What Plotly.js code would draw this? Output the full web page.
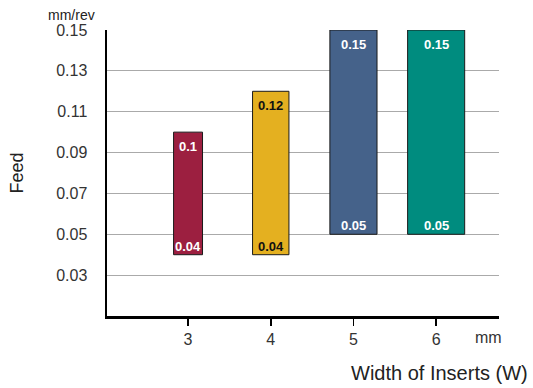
<!DOCTYPE html>
<html>
<head>
<meta charset="utf-8">
<script src="https://cdn.plot.ly/plotly-3.0.1.min.js"></script>
<style>html,body{margin:0;padding:0;background:#fff;}#chart{width:533px;height:388px;}</style>
</head>
<body>
<div id="chart"></div>
<script>
// Data
const widths = [3, 4, 5, 6];           // insert width (mm)
const feedMin = [0.04, 0.04, 0.05, 0.05];
const feedMax = [0.10, 0.12, 0.15, 0.15];
const yTicks = [0.03, 0.05, 0.07, 0.09, 0.11, 0.13, 0.15];
const yTickText = ['0.03', '0.05', '0.07', '0.09', '0.11', '0.13', '0.15'];
const xTickText = ['3', '4', '5', '6'];

const colors = ['#9C1F40', '#E4B020', '#45628A', '#008C7F'];
const labelColors = ['#ffffff', '#111111', '#ffffff', '#ffffff'];
const barWidths = [0.35, 0.44, 0.57, 0.69];

const font = 'Liberation Sans, Arial, Helvetica, sans-serif';

const trace = {
  type: 'bar',
  x: widths,
  base: feedMin,
  y: feedMax.map((v, i) => v - feedMin[i]),
  width: barWidths,
  marker: { color: colors, line: { color: '#1a1a1a', width: 1 } },
  hoverinfo: 'skip',
  cliponaxis: false
};

const annotations = [];
widths.forEach((w, i) => {
  annotations.push({
    x: w, y: feedMax[i], xref: 'x', yref: 'y', text: String(feedMax[i]),
    showarrow: false, yanchor: 'top', yshift: -5,
    font: { family: font, size: 13, color: labelColors[i], weight: 'bold' }
  });
  annotations.push({
    x: w, y: feedMin[i], xref: 'x', yref: 'y', text: String(feedMin[i]),
    showarrow: false, yanchor: 'bottom', yshift: -1,
    font: { family: font, size: 13, color: labelColors[i], weight: 'bold' }
  });
});
annotations.push({
  xref: 'paper', yref: 'paper', x: -0.09, y: 1.0, yshift: 15, text: 'mm/rev',
  showarrow: false, xanchor: 'center', yanchor: 'middle',
  font: { family: font, size: 14, color: '#222' }
});
annotations.push({
  xref: 'paper', yref: 'paper', x: 1.0, y: 0, yshift: -21, xshift: -11, text: 'mm',
  showarrow: false, xanchor: 'center', yanchor: 'middle',
  font: { family: font, size: 16, color: '#333' }
});
annotations.push({
  xref: 'paper', yref: 'paper', x: 1.0, y: 0, yshift: -57, xshift: 31, text: 'Width of Inserts (W)',
  showarrow: false, xanchor: 'right', yanchor: 'middle',
  font: { family: font, size: 20, color: '#222' }
});

const layout = {
  width: 533, height: 388,
  margin: { l: 107, r: 34, t: 30, b: 72 },
  paper_bgcolor: '#fff', plot_bgcolor: '#fff',
  showlegend: false,
  font: { family: font, color: '#333' },
  xaxis: {
    range: [2.02, 6.76],
    tickvals: widths, ticktext: xTickText,
    ticks: 'outside', ticklen: 7, tickwidth: 1.5, tickcolor: '#000',
    tickfont: { family: font, size: 16, color: '#333' },
    showgrid: false, zeroline: false,
    showline: true, linecolor: '#000', linewidth: 2.5,
    fixedrange: true
  },
  yaxis: {
    range: [0.01, 0.15],
    tickvals: yTicks, ticktext: yTickText,
    ticks: '', ticklabelstandoff: 14,
    tickfont: { family: font, size: 16, color: '#333' },
    showgrid: true, gridcolor: '#aaaaaa', gridwidth: 1,
    zeroline: false,
    showline: true, linecolor: '#000', linewidth: 2.5,
    title: { text: 'Feed', font: { family: font, size: 18, color: '#222' }, standoff: 28 },
    fixedrange: true
  },
  annotations: annotations
};

Plotly.newPlot('chart', [trace], layout, { displayModeBar: false, staticPlot: true });
</script>
</body>
</html>
